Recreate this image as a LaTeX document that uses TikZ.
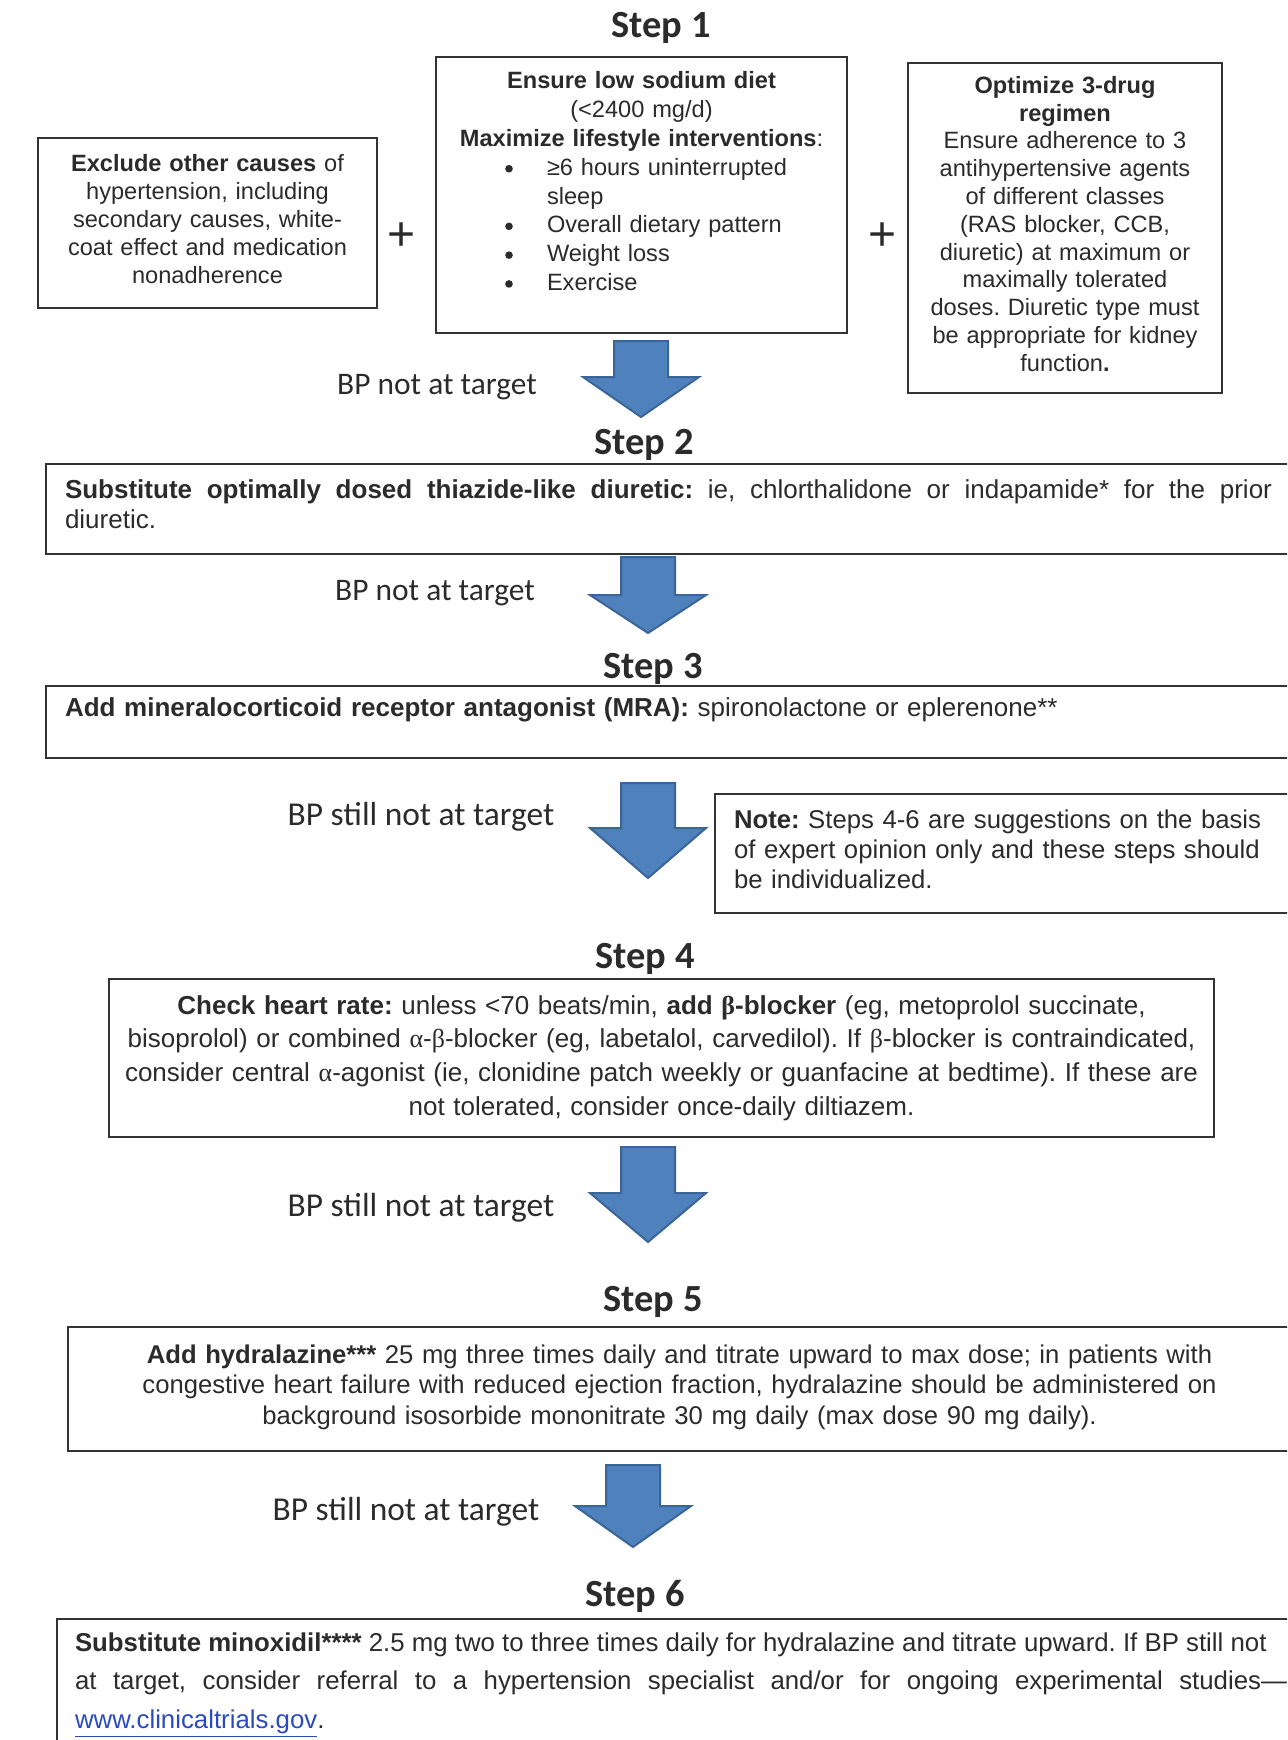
\documentclass[tikz,border=0pt]{standalone}
\usepackage{fontspec}
\setmainfont{Liberation Sans}
\newfontfamily\calibri{Carlito}
\newfontfamily\greekfont{Liberation Serif}
\setlength{\parindent}{0pt}
\newcommand{\galpha}{{\greekfont α}}
\newcommand{\gbeta}{{\greekfont β}}
\newcommand{\listdot}{\tikz[x=1pt, y=1pt, baseline=-3.3pt] \fill[boxtext] (0,0) circle (1.9pt);}
\definecolor{arrowblue}{HTML}{4F81BD}
\definecolor{arrowedge}{HTML}{3A6596}
\definecolor{linkblue}{HTML}{2A4BC0}
\definecolor{boxtext}{HTML}{2B2B2B}

\tikzstyle{every node}=[inner sep=0pt, text=boxtext]
\tikzstyle{stepbox}=[draw=black!80, line width=1pt, anchor=north west, inner xsep=9.5pt, font={\fontsize{13}{15}\selectfont}]
\tikzstyle{steptitle}=[anchor=base, font={\calibri\bfseries\fontsize{19.2}{20}\selectfont}]
\tikzstyle{bplabel}=[font={\calibri\fontsize{15.7}{18}\selectfont}]
\tikzstyle{stilllabel}=[font={\calibri\fontsize{16.7}{18}\selectfont}]
\tikzstyle{plus}=[font={\fontsize{24}{24}\selectfont}]
\tikzstyle{bparrow}=[fill=arrowblue, draw=arrowedge, line width=1pt, line join=miter]

\begin{document}
\frenchspacing
\begin{tikzpicture}[x=0.5pt, y=-0.5pt]
    \clip (0,0) rectangle (1287,1740);
    \fill[white] (0,0) rectangle (1287,1740);

    % step 1
    \node [steptitle] (title1) at (661,37) {Step 1};
    \node [stepbox, text width=160pt, inner xsep=4.75pt, minimum height=85pt, align=center,
        font={\fontsize{11.8}{14}\selectfont}] (exclude) at (37,137)
        {\textbf{Exclude other causes} of\\hypertension, including\\secondary causes, white-\\coat effect and medication\\nonadherence\strut};
    \node [stepbox, text width=195.5pt, inner xsep=5pt, minimum height=138pt, align=center,
        font={\fontsize{11.8}{14.4}\selectfont}] (diet) at (435,56)
        {\textbf{Ensure low sodium diet}\\(<2400 mg/d)\\\textbf{Maximize lifestyle interventions}:\\
        \begin{tabular}[t]{@{\hspace{29.6pt}}p{20.9pt}@{}p{145pt}@{}}
            \listdot & ≥6 hours uninterrupted\\
                     & sleep\\
            \listdot & Overall dietary pattern\\
            \listdot & Weight loss\\
            \listdot & Exercise\\[9.5pt]
        \end{tabular}};
    \node [stepbox, text width=149pt, inner xsep=4pt, minimum height=165pt, align=center,
        font={\fontsize{11.8}{13.9}\selectfont}] (regimen) at (907,62)
        {\textbf{Optimize 3-drug}\\\textbf{regimen}\\Ensure adherence to 3\\antihypertensive agents\\of different classes\\(RAS blocker, CCB,\\diuretic) at maximum or\\maximally tolerated\\doses. Diuretic type must\\be appropriate for kidney\\function\textbf{.}\strut};
    \node [plus] (plus1) at (402,237) {+};
    \node [plus] (plus2) at (883,237) {+};
    \node [bplabel] (bp1) at (437,387) {BP not at target};

    % step 2
    \node [steptitle] (title2) at (644,454) {Step 2};
    \node [stepbox, text width=603.5pt, minimum height=45pt, align=justify] (thiazide) at (45,463)
        {\textbf{Substitute optimally dosed thiazide-like diuretic:} ie, chlorthalidone or indapamide* for the prior\linebreak diuretic.\strut};
    \node [bplabel] (bp2) at (435,593) {BP not at target};

    % step 3
    \node [steptitle] (title3) at (653,678) {Step 3};
    \node [stepbox, text width=603.5pt, minimum height=36pt, align=left] (mra) at (45,685)
        {\textbf{Add mineralocorticoid receptor antagonist (MRA):} spironolactone or eplerenone**\\\mbox{}};
    \node [stilllabel] (bp3) at (421,817) {BP still not at target};
    \node [stepbox, text width=269pt, minimum height=59.5pt, align=left,
        font={\fontsize{12.85}{15}\selectfont}] (note) at (714,793)
        {\textbf{Note:} Steps 4-6 are suggestions on the basis\\of expert opinion only and these steps should\\be individualized.\strut};

    % step 4
    \node [steptitle] (title4) at (645,968) {Step 4};
    \node [stepbox, text width=545pt, inner xsep=3.75pt, minimum height=79pt, align=center,
        font={\fontsize{13}{16.85}\selectfont}] (betablocker) at (108,978)
        {\textbf{Check heart rate:} unless <70 beats/min, \textbf{add \gbeta-blocker} (eg, metoprolol succinate,\\bisoprolol) or combined \galpha-\gbeta-blocker (eg, labetalol, carvedilol). If \gbeta-blocker is contraindicated,\\consider central \galpha-agonist (ie, clonidine patch weekly or guanfacine at bedtime). If these are\\not tolerated, consider once-daily diltiazem.};
    \node [stilllabel] (bp4) at (421,1208) {BP still not at target};

    % step 5
    \node [steptitle] (title5) at (653,1311) {Step 5};
    \node [stepbox, text width=592.5pt, minimum height=62pt, align=center,
        font={\fontsize{12.83}{15.25}\selectfont}] (hydralazine) at (67,1326)
        {\textbf{Add hydralazine***} 25 mg three times daily and titrate upward to max dose; in patients with\\congestive heart failure with reduced ejection fraction, hydralazine should be administered on\\background isosorbide mononitrate 30 mg daily (max dose 90 mg daily).\strut};
    \node [stilllabel] (bp5) at (406,1512) {BP still not at target};

    % step 6
    \node [steptitle] (title6) at (635,1606) {Step 6};
    \node [stepbox, text width=606pt, inner xsep=9pt, minimum height=66pt, align=justify,
        font={\fontsize{12.9}{19.25}\selectfont}] (minoxidil) at (56,1618)
        {\textbf{Substitute minoxidil****} 2.5 mg two to three times daily for hydralazine and titrate upward. If BP still not\newline at target, consider referral to a hypertension specialist and/or for ongoing experimental studies—\linebreak \textcolor{linkblue}{\underline{www.clinicaltrials.gov}}.};

    % block arrows
    \foreach \cx/\ytop/\yhead/\ytip in {641/341/377/417, 648/557/595/633, 648/783/828/878, 648/1147/1193/1242, 633/1465/1506/1547}
        \draw [bparrow] (\cx-27,\ytop) -- (\cx+27,\ytop) -- (\cx+27,\yhead) -- (\cx+58,\yhead)
            -- (\cx,\ytip) -- (\cx-58,\yhead) -- (\cx-27,\yhead) -- cycle;
\end{tikzpicture}
\end{document}
